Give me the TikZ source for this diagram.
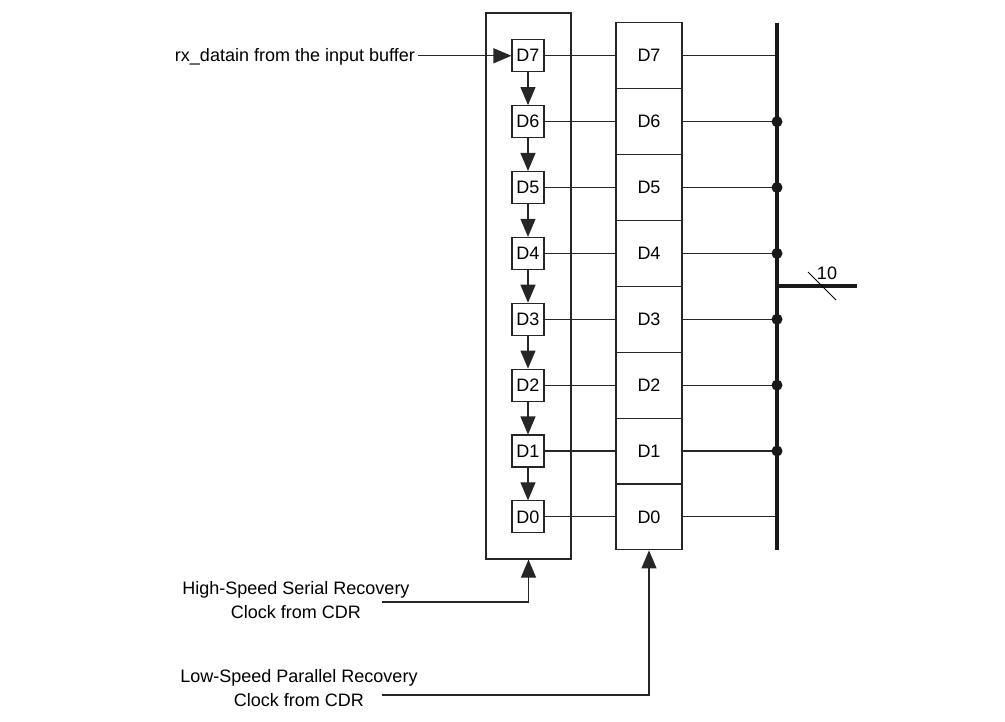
\documentclass[tikz,border=0pt]{standalone}
\usepackage{fontspec}
\setmainfont{Liberation Sans}
\usetikzlibrary{arrows.meta}
\begin{document}
\begin{tikzpicture}[x=1pt,y=-1pt,
  every node/.style={font=\fontsize{18}{24}\selectfont},
  thin line/.style={line width=1.1pt,draw=black!85},
  arr/.style={thin line,-{Triangle[length=18pt,width=15pt]}},
  sbox/.style={draw=black!85,line width=1.1pt,minimum width=32pt,minimum height=32pt,inner sep=0pt},
  rbox/.style={draw=black!85,line width=1.1pt,minimum width=66pt,minimum height=65.875pt,inner sep=0pt},
  bus/.style={line width=4pt,draw=black!90},
  dot/.style={circle,fill=black!90,inner sep=0pt,minimum size=11pt}]
\useasboundingbox (0,0) rectangle (1005,721);
% outer serial register box
\node[draw=black!85,line width=1.1pt,minimum width=85pt,minimum height=546pt,inner sep=0pt] (outer) at (528.5,286) {};
% boxes
\foreach \i in {0,...,7}{
  \pgfmathsetmacro{\yc}{516.9-65.875*\i}
  \node[sbox,fill=white] (s\i) at (528,\yc) {D\i};
  \node[rbox] (r\i) at (649,\yc) {D\i};
  \coordinate (j\i) at (777,\yc);
  \draw[thin line] (s\i.east) -- (r\i.west);
  \draw[thin line] (r\i.east) -- (j\i);
}
% bus
\coordinate (bustop) at (777,23);
\coordinate (busbot) at (777,550);
\draw[bus] (bustop) -- (busbot);
\foreach \i in {1,...,6}{\node[dot] at (j\i) {};}
% output
\coordinate (busout) at (777,286);
\coordinate (out) at (857,286);
\draw[bus,line cap=butt] (busout) -- (out);
\coordinate (sl1) at (808,272);
\coordinate (sl2) at (836,300);
\draw[line width=0.9pt] (sl1) -- (sl2);
\node (ten) at (827,273) {10};
% serial chain
\foreach \a/\b in {7/6,6/5,5/4,4/3,3/2,2/1,1/0}{
  \draw[arr] (s\a.south) -- (s\b.north);
}
% input
\node[anchor=east,inner sep=3pt] (rx) at (418,57) {rx\_datain from the input buffer};
\draw[arr] (s7.west -| rx.east) -- (s7.west);
% clocks
\node[align=center,inner sep=0pt] (hsl) at (296,600) {High-Speed Serial Recovery\\Clock from CDR};
\coordinate (hs) at (382,602);
\draw[arr] (hs) -| (outer.south);
\node[align=center,inner sep=0pt] (lsl) at (299,688) {Low-Speed Parallel Recovery\\Clock from CDR};
\coordinate (ls) at (382,695);
\draw[arr] (ls) -| (r0.south);
\end{tikzpicture}
\end{document}
